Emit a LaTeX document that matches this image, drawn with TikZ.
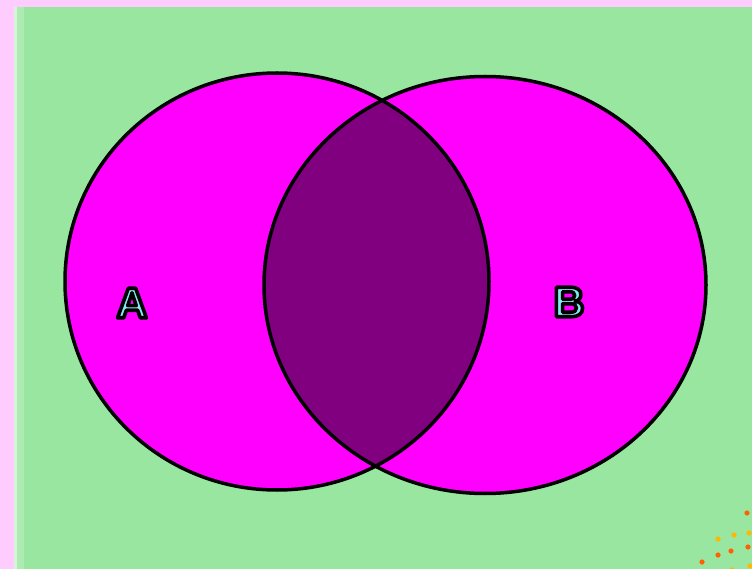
\documentclass[tikz,border=0pt]{standalone}
\usepackage{xcolor}
\usepackage{tikz}
\usepackage{fontspec}
\setmainfont{Liberation Sans}

\definecolor{pinkframe}{RGB}{255,204,255}
\definecolor{bggreen}{RGB}{152,230,160}
\definecolor{setmagenta}{RGB}{255,0,255}
\definecolor{setpurple}{RGB}{128,0,128}
\definecolor{lettercyan}{RGB}{128,236,240}
\definecolor{dotorange}{RGB}{255,96,0}
\definecolor{dotyellow}{RGB}{255,184,0}

% outlined letter: cyan fill, black stroke (pdf text render mode 2)
\newcommand{\outlinedletter}[1]{%
    \textcolor{lettercyan}{\special{pdf:code q 2 Tr 3.6 w 1 j 0 0 0 RG}#1\special{pdf:code Q}}}

\tikzset{
    setline/.style={line width=3.5pt, draw=black},
    setlabel/.style={font=\bfseries\fontsize{43}{43}\selectfont, inner sep=0pt},
}

\begin{document}
\begin{tikzpicture}[x=1pt, y=-1pt]
    % --- Frame and Background ---
    \fill[pinkframe] (0,0) rectangle (752,569);
    \useasboundingbox (0,0) rectangle (752,569);
    \fill[bggreen] (14,7) rectangle (752,569);
    \fill[bggreen!40!white] (14,7) rectangle (17,569);
    \fill[bggreen!80!white] (17,7) rectangle (24,569);

    % --- Set A and Set B ---
    \fill[setmagenta] (277,281.5) ellipse (212 and 208.5);
    \fill[setmagenta] (485,285) ellipse (221 and 208.5);

    % --- Intersection A and B ---
    \begin{scope}
        \clip (277,281.5) ellipse (212 and 208.5);
        \fill[setpurple] (485,285) ellipse (221 and 208.5);
    \end{scope}

    % --- Outlines ---
    \draw[setline] (277,281.5) ellipse (212 and 208.5);
    \draw[setline] (485,285) ellipse (221 and 208.5);

    % --- Labels ---
    \node[setlabel] (labelA) at (132,303) {\outlinedletter{A}};
    \node[setlabel] (labelB) at (569,302) {\outlinedletter{B}};

    % --- Corner dots ---
    \foreach \px/\py in {747/513, 748/547, 731/551, 718/555, 702/562} {
        \fill[dotorange] (\px,\py) circle (2.6);
    }
    \foreach \px/\py in {718/539, 734/535, 749/533, 750/566, 732/570} {
        \fill[dotyellow] (\px,\py) circle (2.6);
    }
\end{tikzpicture}
\end{document}
